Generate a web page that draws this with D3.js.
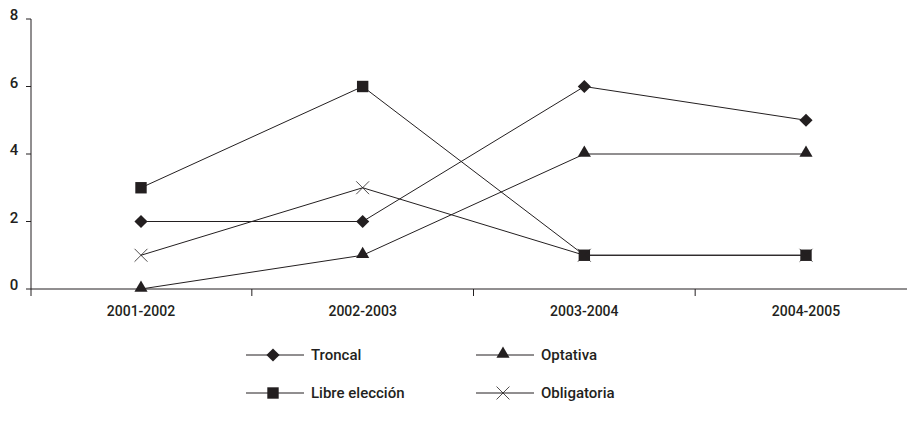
<!DOCTYPE html>
<html>
<head>
<meta charset="utf-8">
<script src="https://cdn.jsdelivr.net/npm/d3@7"></script>
<style>
  body { margin: 0; background: #fff; }
  svg text { font-family: "Roboto", "DejaVu Sans Condensed", sans-serif; font-weight: 500; fill: #231f20; }
</style>
</head>
<body>
<div id="chart"></div>
<script>
// chart data
const periods = ['2001-2002', '2002-2003', '2003-2004', '2004-2005'];
const troncal = [2, 2, 6, 5];
const optativa = [0, 1, 4, 4];
const libreEleccion = [3, 6, 1, 1];
const obligatoria = [1, 3, 1, 1];
const yTicks = [0, 2, 4, 6, 8];

const series = [
    { name: 'Troncal', values: troncal, symbol: 'diamond' },
    { name: 'Libre elección', values: libreEleccion, symbol: 'square' },
    { name: 'Optativa', values: optativa, symbol: 'triangle' },
    { name: 'Obligatoria', values: obligatoria, symbol: 'cross' }
];
const legendOrder = ['Troncal', 'Optativa', 'Libre elección', 'Obligatoria'];

const width = 907, height = 437;
const ink = '#231f20';

const svg = d3.select('#chart').append('svg')
    .attr('width', width)
    .attr('height', height);

const x = d3.scalePoint()
    .domain(periods)
    .range([141, 806]);

const step = x.step();

const y = d3.scaleLinear()
    .domain([0, 8])
    .range([289, 19]);

// y axis
svg.append('line')
    .attr('x1', 31).attr('x2', 31)
    .attr('y1', y(8)).attr('y2', y(0) + 7)
    .attr('stroke', ink).attr('stroke-width', 1);

svg.selectAll('line.ytick')
    .data(yTicks)
    .enter().append('line')
    .attr('class', 'ytick')
    .attr('x1', 26).attr('x2', 31)
    .attr('y1', d => y(d)).attr('y2', d => y(d))
    .attr('stroke', ink);

svg.selectAll('text.ylab')
    .data(yTicks)
    .enter().append('text')
    .attr('class', 'ylab')
    .attr('x', 14)
    .attr('y', d => y(d) + 1)
    .attr('text-anchor', 'middle')
    .style('font-size', '15px')
    .text(d => d);

// x axis
svg.append('line')
    .attr('x1', 31).attr('x2', width)
    .attr('y1', y(0)).attr('y2', y(0))
    .attr('stroke', ink);

svg.selectAll('line.xtick')
    .data(periods.slice(0, -1))
    .enter().append('line')
    .attr('class', 'xtick')
    .attr('x1', d => x(d) + step / 2).attr('x2', d => x(d) + step / 2)
    .attr('y1', y(0)).attr('y2', y(0) + 7)
    .attr('stroke', ink);

svg.selectAll('text.xlab')
    .data(periods)
    .enter().append('text')
    .attr('class', 'xlab')
    .attr('x', d => x(d))
    .attr('y', y(0) + 27)
    .attr('text-anchor', 'middle')
    .style('font-size', '14px')
    .text(d => d);

function symbolPath(type) {
    if (type === 'diamond') return d3.symbol(d3.symbolDiamond2, 110)();
    if (type === 'square') return d3.symbol(d3.symbolSquare, 130)();
    if (type === 'triangle') return d3.symbol(d3.symbolTriangle, 75)();
    return d3.symbol(d3.symbolTimes, 110)();
}

function drawMarker(g, type) {
    const p = g.append('path').attr('d', symbolPath(type));
    if (type === 'cross') {
        p.attr('fill', 'none').attr('stroke', ink).attr('stroke-width', 0.8);
    } else {
        p.attr('fill', ink);
    }
    if (type === 'triangle') p.attr('transform', 'translate(0,-1)');
}

const line = d3.line()
    .x((d, i) => x(periods[i]))
    .y(d => y(d));

series.forEach(s => {
    svg.append('path')
        .attr('d', line(s.values))
        .attr('fill', 'none')
        .attr('stroke', ink)
        .attr('stroke-width', 1);
});

series.forEach(s => {
    s.values.forEach((v, i) => {
        const g = svg.append('g')
            .attr('transform', `translate(${x(periods[i])}, ${y(v)})`);
        drawMarker(g, s.symbol);
    });
});

// legend
const legendPos = [
    { lx: 246, ly: 355 },
    { lx: 476, ly: 355 },
    { lx: 246, ly: 393 },
    { lx: 476, ly: 393 }
];

legendOrder.forEach((name, i) => {
    const s = series.find(d => d.name === name);
    const p = legendPos[i];
    const g = svg.append('g').attr('transform', `translate(${p.lx}, ${p.ly})`);
    g.append('line')
        .attr('x1', 0).attr('x2', 58)
        .attr('y1', 0).attr('y2', 0)
        .attr('stroke', ink);
    const m = g.append('g').attr('transform', 'translate(27, 0)');
    drawMarker(m, s.symbol);
    g.append('text')
        .attr('x', 65)
        .attr('y', 5)
        .style('font-size', '15px')
        .text(name);
});
</script>
</body>
</html>
